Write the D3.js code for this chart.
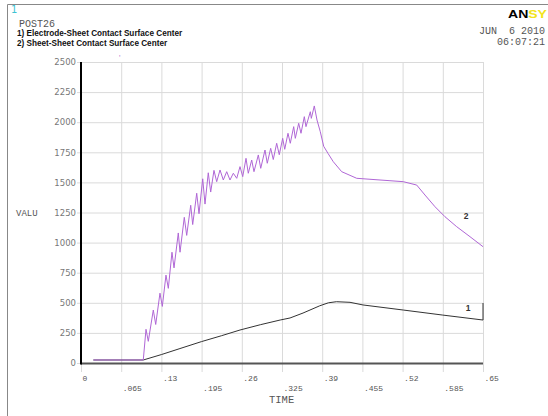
<!DOCTYPE html>
<html>
<head>
<meta charset="utf-8">
<script src="https://cdn.jsdelivr.net/npm/d3@7"></script>
<style>
body { margin: 0; background: #fff; }
svg { display: block; background: #fff; }
.mono { font-family: 'Liberation Mono', 'DejaVu Sans Mono', monospace; fill: #555; }
.grid line { stroke: #dadada; stroke-width: 1; }
.grid text { font-family: 'DejaVu Sans', sans-serif; font-size: 8.5px; fill: #777; }
</style>
</head>
<body>
<svg id="post26" width="548" height="416"></svg>
<script>
// tick values and labels
var timeTicks = [0, .065, .13, .195, .26, .325, .39, .455, .52, .585, .65]
var timeLabels = ['0', '.065', '.13', '.195', '.26', '.325', '.39', '.455', '.52', '.585', '.65']
var valueTicks = [0, 250, 500, 750, 1000, 1250, 1500, 1750, 2000, 2250, 2500]

var curveNames = ['1) Electrode-Sheet Contact Surface Center', '2) Sheet-Sheet Contact Surface Center']

// 1) electrode-sheet contact
var curve1Time = [0.02, 0.1007, 0.13, 0.16, 0.195, 0.2275, 0.2571, 0.29, 0.322, 0.338, 0.359, 0.386,
	0.40, 0.413, 0.435, 0.456, 0.521, 0.585, 0.65, 0.65]
var curve1Value = [25, 25, 70, 120, 178, 227, 274, 318, 357, 374, 415, 475,
	500, 509, 504, 482, 440, 398, 357, 498]

// 2) sheet-sheet contact
var curve2Time = [0.02, 0.1007, 0.1051, 0.1088, 0.1169, 0.1208, 0.1277, 0.1315, 0.1374, 0.1412,
	0.1471, 0.1504, 0.1573, 0.1601, 0.1670, 0.1709, 0.1774, 0.1806, 0.1871, 0.1908,
	0.1968, 0.2005, 0.2058, 0.2097, 0.2150, 0.2194, 0.2248, 0.2301, 0.2356, 0.2409,
	0.2463, 0.2518, 0.2571, 0.2615, 0.2668, 0.2705, 0.2760, 0.2797, 0.2867, 0.2906,
	0.2975, 0.3012, 0.3067, 0.3109, 0.3164, 0.3206, 0.3261, 0.3294, 0.3347, 0.3384,
	0.3439, 0.3465, 0.3520, 0.3557, 0.3611, 0.3638, 0.3708, 0.3724, 0.3772, 0.3816,
	0.3869, 0.3924, 0.3995, 0.4079, 0.4215, 0.4458, 0.4673, 0.4996, 0.5211, 0.5428,
	0.5562, 0.5724, 0.5885, 0.6075, 0.6290, 0.65]
var curve2Value = [25, 25, 280, 180, 440, 320, 580, 470, 730, 620,
	920, 790, 1080, 920, 1210, 1060, 1310, 1150, 1410, 1240,
	1530, 1320, 1580, 1420, 1600, 1506, 1603, 1520, 1589, 1520,
	1576, 1534, 1631, 1548, 1700, 1576, 1686, 1589, 1728, 1617,
	1769, 1659, 1783, 1690, 1825, 1730, 1866, 1775, 1908, 1825,
	1963, 1866, 1991, 1908, 2046, 1963, 2087, 2032, 2135, 2018,
	1921, 1800, 1740, 1672, 1589, 1534, 1526, 1514, 1506, 1478,
	1395, 1298, 1215, 1132, 1049, 966]

// curve number labels (time, value)
var curveLabelTime = [0.622, 0.619]
var curveLabelValue = [430, 1195]

var svg = d3.select('#post26')

var x = d3.scaleLinear().domain([0, .65]).range([81, 483])
var y = d3.scaleLinear().domain([0, 2500]).range([363, 62])

// outer frame
svg.append('path')
	.attr('d', 'M7.5,416 V4.5 H548')
	.attr('fill', 'none')
	.attr('stroke', '#888')
	.attr('stroke-width', 1)

// header texts
svg.append('text')
	.attr('x', 11).attr('y', 13)
	.attr('font-family', 'DejaVu Sans, sans-serif')
	.attr('font-size', 10)
	.attr('fill', '#3cc3d3')
	.text('1')

svg.append('text')
	.attr('class', 'mono')
	.attr('x', 19).attr('y', 27)
	.attr('font-size', 10)
	.text('POST26')

svg.selectAll('.curvename')
	.data(curveNames)
	.enter()
	.append('text')
	.attr('class', 'curvename')
	.attr('x', 17)
	.attr('y', (d, i) => 36 + i * 9.5)
	.attr('font-family', 'Liberation Sans, Arial, sans-serif')
	.attr('font-size', 8.2)
	.attr('font-weight', 'bold')
	.attr('fill', '#111')
	.text((d) => d)

// logo, cut at the window edge in the original
var logo = svg.append('text')
	.attr('x', 508).attr('y', 18)
	.attr('font-family', 'Liberation Sans, Arial, sans-serif')
	.attr('font-size', 11)
	.attr('font-weight', 'bold')
	.attr('textLength', 39)
	.attr('lengthAdjust', 'spacingAndGlyphs')
logo.append('tspan').attr('fill', '#000').text('AN')
logo.append('tspan').attr('fill', '#f2e41c').text('SY')

svg.append('text')
	.attr('class', 'mono')
	.attr('x', 545).attr('y', 34)
	.attr('font-size', 10)
	.attr('text-anchor', 'end')
	.attr('xml:space', 'preserve')
	.text('JUN  6 2010')

svg.append('text')
	.attr('class', 'mono')
	.attr('x', 545).attr('y', 44.5)
	.attr('font-size', 10)
	.attr('text-anchor', 'end')
	.text('06:07:21')

// stray mark above the plot
svg.append('text')
	.attr('x', 119).attr('y', 61)
	.attr('font-size', 8)
	.attr('fill', '#b070d0')
	.text("'")

// grid
var xGrid = svg.append('g')
	.attr('class', 'grid')
	.attr('transform', `translate(0, ${y(0) + 9})`)
	.call(d3.axisBottom(x)
		.tickValues(timeTicks)
		.tickSize(-(y(0) + 9 - y(2500)))
		.tickFormat(''))
xGrid.select('.domain').remove()

var yGrid = svg.append('g')
	.attr('class', 'grid')
	.attr('transform', `translate(${x(0) - 4}, 0)`)
	.call(d3.axisLeft(y)
		.tickValues(valueTicks)
		.tickSize(-(x(.65) - x(0) + 4))
		.tickPadding(1)
		.tickFormat(d3.format('d')))
yGrid.select('.domain').remove()

// time labels in two staggered rows
svg.selectAll('.timelabel')
	.data(timeTicks)
	.enter()
	.append('text')
	.attr('class', 'timelabel mono')
	.attr('x', (d) => x(d) + 1.5)
	.attr('y', (d, i) => i % 2 == 0 ? 380.5 : 390.5)
	.attr('font-size', 8)
	.text((d, i) => timeLabels[i])

// axes lines
svg.append('line')
	.attr('x1', x(0)).attr('x2', x(.65))
	.attr('y1', y(0) + 0.5).attr('y2', y(0) + 0.5)
	.attr('stroke', '#555')
	.attr('stroke-width', 2.2)

svg.append('line')
	.attr('x1', x(0)).attr('x2', x(0))
	.attr('y1', y(2500)).attr('y2', y(0) + 1.5)
	.attr('stroke', '#000')
	.attr('stroke-width', 2)

svg.append('text')
	.attr('class', 'mono')
	.attr('x', 16).attr('y', 216)
	.attr('font-size', 9)
	.text('VALU')

svg.append('text')
	.attr('class', 'mono')
	.attr('x', 269).attr('y', 403)
	.attr('font-size', 10.5)
	.text('TIME')

// curves
var line = d3.line()
	.x((d) => x(d[0]))
	.y((d) => y(d[1]))

svg.append('path')
	.datum(d3.zip(curve1Time, curve1Value))
	.attr('d', line)
	.attr('fill', 'none')
	.attr('stroke', '#333')
	.attr('stroke-width', 1)

svg.append('path')
	.datum(d3.zip(curve2Time, curve2Value))
	.attr('d', line)
	.attr('fill', 'none')
	.attr('stroke', '#b067d6')
	.attr('stroke-width', 1)

svg.selectAll('.curvelabel')
	.data(curveLabelTime)
	.enter()
	.append('text')
	.attr('class', 'curvelabel')
	.attr('x', (d) => x(d))
	.attr('y', (d, i) => y(curveLabelValue[i]))
	.attr('font-family', 'Liberation Sans, Arial, sans-serif')
	.attr('font-size', 8.5)
	.attr('font-weight', 'bold')
	.attr('fill', '#333')
	.text((d, i) => String(i + 1))
</script>
</body>
</html>
